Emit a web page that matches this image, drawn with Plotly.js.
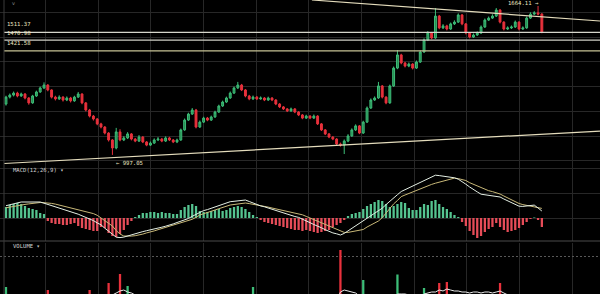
<!DOCTYPE html>
<html><head><meta charset="utf-8">
<script src="https://cdn.plot.ly/plotly-3.0.1.min.js"></script>
<style>html,body{margin:0;padding:0;background:#000;}#chart{width:600px;height:294px;}</style>
</head><body><div id="chart"></div>
<script>
// ---- price candles (one per period) ----
const opens = [
1225,1256,1265,1274,1261,1270,1252,1230,1261,1279,
1297,1310,1288,1256,1248,1256,1243,1252,1239,1256,
1270,1230,1198,1171,1158,1136,1122,1095,1064,1028,
1100,1064,1073,1091,1068,1059,1077,1055,1041,1050,
1064,1068,1059,1073,1064,1055,1064,1109,1153,1180,
1198,1122,1144,1162,1153,1167,1189,1216,1234,1252,
1274,1297,1310,1288,1261,1248,1256,1248,1252,1243,
1252,1243,1225,1212,1203,1194,1203,1189,1176,1162,
1171,1162,1171,1136,1109,1091,1077,1068,1046,1041,
1059,1082,1109,1127,1095,1144,1207,1243,1252,1306,
1256,1230,1306,1386,1445,1409,1395,1404,1386,1413,
1458,1512,1543,1521,1619,1566,1575,1561,1584,1592,
1624,1584,1543,1525,1534,1543,1570,1601,1610,1619,
1646,1592,1561,1566,1570,1592,1561,1566,1610,1628,
1633,1628];
const closes = [
1256,1265,1274,1261,1270,1252,1230,1261,1279,1297,
1310,1288,1256,1248,1256,1243,1252,1239,1256,1270,
1230,1198,1171,1158,1136,1122,1095,1064,1028,1100,
1064,1073,1091,1068,1059,1077,1055,1041,1050,1064,
1068,1059,1073,1064,1055,1064,1109,1153,1180,1198,
1122,1144,1162,1153,1167,1189,1216,1234,1252,1274,
1297,1310,1288,1261,1248,1256,1248,1252,1243,1252,
1243,1225,1212,1203,1194,1203,1189,1176,1162,1171,
1162,1171,1136,1109,1091,1077,1068,1046,1041,1059,
1082,1109,1127,1095,1144,1207,1243,1252,1306,1256,
1230,1306,1386,1445,1409,1395,1404,1386,1413,1458,
1512,1543,1521,1619,1566,1575,1561,1584,1592,1624,
1584,1543,1525,1534,1543,1570,1601,1610,1619,1646,
1592,1561,1566,1570,1592,1561,1566,1610,1628,1633,
1628,1548];
const highs = [
1262,1272,1281,1280,1276,1274,1256,1266,1285,1303,
1322,1314,1291,1262,1264,1260,1259,1257,1262,1279,
1273,1234,1203,1176,1162,1141,1126,1099,1068,1118,
1112,1081,1099,1095,1073,1086,1081,1059,1057,1071,
1077,1073,1080,1078,1068,1070,1115,1160,1186,1207,
1203,1151,1168,1167,1173,1195,1222,1240,1258,1281,
1303,1324,1315,1292,1266,1263,1261,1259,1256,1258,
1256,1247,1229,1216,1207,1209,1207,1193,1180,1177,
1175,1178,1175,1140,1113,1095,1081,1072,1052,1066,
1090,1116,1134,1131,1150,1214,1250,1259,1324,1310,
1260,1312,1393,1467,1450,1414,1411,1408,1420,1465,
1519,1552,1548,1655,1624,1583,1580,1590,1600,1631,
1628,1588,1547,1541,1550,1577,1608,1617,1627,1655,
1650,1596,1573,1577,1599,1596,1573,1617,1636,1641,
1664.11,1632];
const lows = [
1218,1250,1259,1255,1257,1246,1222,1226,1257,1275,
1292,1282,1250,1241,1243,1236,1238,1232,1235,1252,
1224,1192,1165,1151,1130,1116,1089,1057,997.05,1022,
1058,1059,1068,1062,1054,1055,1050,1036,1037,1046,
1059,1054,1055,1059,1050,1050,1060,1105,1149,1176,
1116,1118,1140,1148,1149,1163,1185,1212,1230,1248,
1270,1292,1283,1255,1242,1243,1243,1244,1238,1239,
1238,1220,1207,1198,1189,1190,1184,1171,1157,1158,
1157,1158,1131,1104,1086,1072,1063,1040,1034,1001,
1054,1078,1104,1090,1091,1140,1203,1239,1248,1250,
1224,1226,1302,1381,1403,1389,1390,1380,1382,1409,
1454,1507,1515,1517,1560,1561,1555,1557,1579,1588,
1578,1537,1519,1521,1530,1539,1566,1597,1606,1615,
1586,1555,1557,1561,1566,1555,1557,1562,1606,1624,
1622,1542];

// ---- MACD(12,26,9) ----
const macdHist = [
11,13,14,15,14,12,10,9,8,5,
4,-3,-5,-6,-6,-7,-7,-6,-5,-8,
-10,-11,-12,-13,-13,-9,-10,-15,-18,-19,
-16,-12,-7,-3,1,3,5,5,6,6,
5,6,5,5,4,4,8,11,13,14,
12,7,6,6,7,8,9,7,8,10,
11,12,11,9,6,3,1,-2,-4,-5,
-6,-7,-8,-9,-10,-11,-12,-12,-13,-12,
-13,-14,-15,-14,-13,-12,-9,-7,-5,-2,
2,4,5,6,9,12,14,16,18,17,
14,11,12,14,16,15,10,8,8,11,
14,13,17,18,14,11,9,6,3,1,
-4,-8,-13,-17,-20,-18,-14,-11,-9,-5,
-9,-12,-14,-13,-12,-10,-7,-4,-1,0.5,
-2,-9];
const macdDif = [
12.3,13.3,14.4,15.2,16,16,16,16,16,16,
14.8,13.6,12.4,11.5,10.4,9.2,8,6.5,5.3,3.8,
2.2,0.7,-0.8,-2.6,-4.9,-6.8,-10.2,-13.6,-16.2,-19.2,
-19.6,-19.1,-17.9,-16.8,-15.5,-14.5,-13.6,-12.7,-12,-11.1,
-10.2,-9.2,-8.2,-7.3,-5.9,-4.5,-3.1,-1.7,-0.5,1.7,
3.8,6,7.4,8.4,9.8,11.2,12.5,13.9,15.3,16.3,
16.7,17.3,17.7,18,16.5,14.9,13.4,12.1,11.2,9.9,
8.7,7.4,6.2,5.3,4,2.8,1.5,0.6,-0.9,-2.8,
-4.7,-6.5,-7.9,-9.8,-11.7,-13.5,-14.9,-15.8,-17,-15.4,
-12.9,-10.3,-8.3,-5.7,-2.9,-0.3,2.1,4.1,6.7,9.8,
13.4,17,20.6,23.3,26.5,28.3,30.2,32.1,33.5,35.3,
37.2,39.1,41.2,42.8,42.4,41.8,41.2,40.6,40.2,38.8,
36.6,33.8,31,28.9,26.1,23.8,23.2,22.6,22.2,21.6,
21,19,17.1,15.7,13.7,11.8,11.6,11.9,12.2,12.9,
10,7];
const macdDea = [
10.2,11,11.8,12.4,13.1,13.6,14.1,14.6,15,15.5,
15.3,15.1,14.6,13.9,13,12.2,11.3,10.3,9.5,8.5,
7.5,6.6,5.7,4.4,2.7,-0.2,-2.4,-5.6,-8,-12.6,
-16,-18,-18.3,-18.1,-17.7,-17.1,-16.1,-14.9,-14.1,-12.9,
-11.7,-10.5,-9.3,-8.4,-7.2,-6,-4.7,-3.5,-2.5,-1.3,
0.7,3,4.3,5.3,6.7,8,9.3,10.7,12,13,
13.5,14.1,14.6,15,14.4,13.8,13.2,12.4,11.7,10.9,
10,9.1,8.3,7.6,6.7,5.9,5,4.4,3.2,1.6,
0,-1.6,-2.8,-4.4,-6,-7.6,-9.2,-10.4,-12,-14.4,
-14.4,-13.6,-13,-12.2,-11.5,-9,-7,-5.5,-3,0.3,
4.9,9.5,14.1,17.5,21.4,23,24.6,26.2,27.4,29,
30.6,32.2,33.6,34.8,35.8,37.2,38.4,39.4,39.9,39.4,
38.6,37.5,35.3,33.7,31.6,29.7,28.5,27.3,26.4,25.2,
24,22,20,18.5,16.5,14.5,13.4,12.6,12,11.2,
10.4,9.6];

// ---- volume ----
const volume = [
67,45,38,42,35,48,52,44,40,46,
50,64,55,41,36,39,33,37,42,47,
56,53,64,49,51,46,58,71,59,57,
80,54,68,49,43,45,40,44,37,41,
35,38,42,36,39,43,52,55,49,51,
57,44,46,40,42,47,50,45,48,53,
55,58,51,47,43,67,41,38,36,40,
35,44,42,39,41,37,43,45,47,40,
38,42,50,53,48,51,54,58,104,59,
55,52,49,56,74,58,54,50,57,55,
52,56,58,79.5,57,53,49,52,55,58,
66,59,57,59,71,58,72,57,55,59,
58,56,54,52,55,57,58,56,54,59,
71,58,53,50,48,52,47,51,49,46,
55,58];
const volumeMA = [
48,47,46,45,42,44,45,44,45,46,
46,50,52,51,49,45,41,37,37,40,
43,47,54,56,55,53,57,58,59,61,
63,64,62,61,59,52,46,44,42,41,
39,39,39,38,38,40,43,45,48,50,
53,51,49,48,46,44,45,47,48,49,
50,54,53,53,51,53,50,47,45,44,
40,39,39,40,40,41,40,41,43,42,
43,42,43,45,46,49,51,53,62,64,
63,62,61,58,58,58,57,58,59,55,
54,54,56,60,60,60,59,58,53,53,
60,61,62,62,64,63,65,64,63,63,
62,62,61,62,62,61,62,62,61,62,
63,61,59,58,56,52,50,50,49,49,
50,52];

// ---- drawn levels / trend lines / labels ----
const levelPrices = [1546, 1511.5, 1463];
const levelLabels = ['1511.37', '1470.98', '1421.58'];
const levelLabelPrices = [1583, 1545, 1498];
const trendLines = [
  {x0: 80.5, y0: 1691, x1: 156.3, y1: 1597},
  {x0: -0.5, y0: 958.5, x1: 156.3, y1: 1104}
];
const lowPoint = {i: 28, price: 997.05};
const highPoint = {i: 140, price: 1664.11};

const idx = opens.map((_, i) => i);
const up = closes.map((c, i) => c >= opens[i]);
const GREEN = '#3dbd78', RED = '#e8313c';

const traces = [
  {
    type: 'candlestick', x: idx, open: opens, high: highs, low: lows, close: closes,
    xaxis: 'x', yaxis: 'y', whiskerwidth: 0,
    increasing: {line: {color: GREEN, width: 1}, fillcolor: '#25874f'},
    decreasing: {line: {color: RED, width: 1}, fillcolor: RED},
    hoverinfo: 'skip'
  },
  {
    type: 'bar', x: idx, y: macdHist, xaxis: 'x', yaxis: 'y2',
    marker: {color: macdHist.map(v => v >= 0 ? '#55c490' : '#e64c58'), line: {width: 0}},
    hoverinfo: 'skip'
  },
  {
    type: 'scatter', mode: 'lines', x: idx, y: macdDea, xaxis: 'x', yaxis: 'y2',
    line: {color: '#c8b878', width: 1}, hoverinfo: 'skip'
  },
  {
    type: 'scatter', mode: 'lines', x: idx, y: macdDif, xaxis: 'x', yaxis: 'y2',
    line: {color: '#e4efe4', width: 1}, hoverinfo: 'skip'
  },
  {
    type: 'bar', x: idx, y: volume, xaxis: 'x', yaxis: 'y3',
    marker: {color: up.map(u => u ? GREEN : RED), line: {width: 0}},
    hoverinfo: 'skip'
  },
  {
    type: 'scatter', mode: 'lines', x: idx, y: volumeMA, xaxis: 'x', yaxis: 'y3',
    line: {color: '#e8e8e8', width: 1}, hoverinfo: 'skip'
  }
];

const levelColors = ['#d6d6cc', '#cfcfc6', '#c6c294'];
const shapes = [];
levelPrices.forEach((p, k) => shapes.push({
  type: 'line', xref: 'paper', yref: 'y', x0: 4/600, x1: 1, y0: p, y1: p,
  line: {color: levelColors[k], width: 1.3}
}));
trendLines.forEach(t => shapes.push({
  type: 'line', xref: 'x', yref: 'y', x0: t.x0, y0: t.y0, x1: t.x1, y1: t.y1,
  line: {color: '#e4dcbc', width: 1.2}
}));
shapes.push({type: 'line', xref: 'paper', yref: 'paper', x0: 0, x1: 1, y0: 53/294, y1: 53/294,
  line: {color: '#4a4a4a', width: 1}});
shapes.push({type: 'line', xref: 'paper', yref: 'paper', x0: 4/600, x1: 4/600, y0: 0, y1: 1,
  line: {color: '#3a3a3a', width: 1}});

const F = {family: 'DejaVu Sans Mono', size: 5.6, color: '#ece6c2'};
const annotations = [];
levelLabels.forEach((t, k) => annotations.push({
  text: t, xref: 'paper', yref: 'y', x: 5/600, y: levelLabelPrices[k],
  xanchor: 'left', yanchor: 'middle', showarrow: false, font: F
}));
annotations.push({text: '← ' + lowPoint.price.toFixed(2), xref: 'x', yref: 'y',
  x: lowPoint.i + 0.3, y: lowPoint.price - 12, xanchor: 'left', yanchor: 'top',
  showarrow: false, font: F});
annotations.push({text: highPoint.price.toFixed(2) + ' →', xref: 'x', yref: 'y',
  x: highPoint.i + 0.5, y: 1676, xanchor: 'right', yanchor: 'middle',
  showarrow: false, font: F, borderpad: 0});
annotations.push({text: 'MACD(12,26,9) ▾', xref: 'paper', yref: 'paper', x: 11/600, y: (294-170)/294,
  xanchor: 'left', yanchor: 'middle', showarrow: false,
  font: {family: 'DejaVu Sans Mono', size: 5.6, color: '#d2d2d2'}});
annotations.push({text: 'VOLUME ▾', xref: 'paper', yref: 'paper', x: 11/600, y: (294-246)/294,
  xanchor: 'left', yanchor: 'middle', showarrow: false,
  font: {family: 'DejaVu Sans Mono', size: 5.6, color: '#d2d2d2'}});
annotations.push({text: 'v', xref: 'paper', yref: 'paper', x: 13/600, y: (294-3)/294,
  xanchor: 'center', yanchor: 'middle', showarrow: false, borderpad: 0,
  font: {family: 'DejaVu Sans', size: 5, color: '#8a8a8a'}});

const GRID = '#272727';
const layout = {
  width: 600, height: 294, margin: {l: 0, r: 0, t: 0, b: 0},
  paper_bgcolor: '#000', plot_bgcolor: '#000', showlegend: false,
  boxgap: 0.3, bargap: 0.4, hovermode: false,
  xaxis: {range: [-1.579, 156.3], showticklabels: false, ticks: '', tickmode: 'linear',
    tick0: 24.21, dtick: 13.86, showgrid: true, gridcolor: GRID, zeroline: false,
    rangeslider: {visible: false}, showline: false},
  yaxis: {domain: [129/294, 1], range: [951.8, 1691], tickmode: 'linear', tick0: 971, dtick: 110.66,
    gridcolor: GRID, showticklabels: false, ticks: '', zeroline: false},
  yaxis2: {domain: [53/294, 129/294], range: [-23, 53], tickmode: 'linear', tick0: 0, dtick: 24.7,
    gridcolor: GRID, showticklabels: false, ticks: '', zeroline: false},
  yaxis3: {domain: [0, 51/294], range: [60, 111], tickvals: [98], gridcolor: '#585858',
    griddash: '2px,2px', showticklabels: false, ticks: '', zeroline: false},
  shapes: shapes, annotations: annotations
};
Plotly.newPlot('chart', traces, layout, {staticPlot: true, displayModeBar: false});
</script>
</body></html>
